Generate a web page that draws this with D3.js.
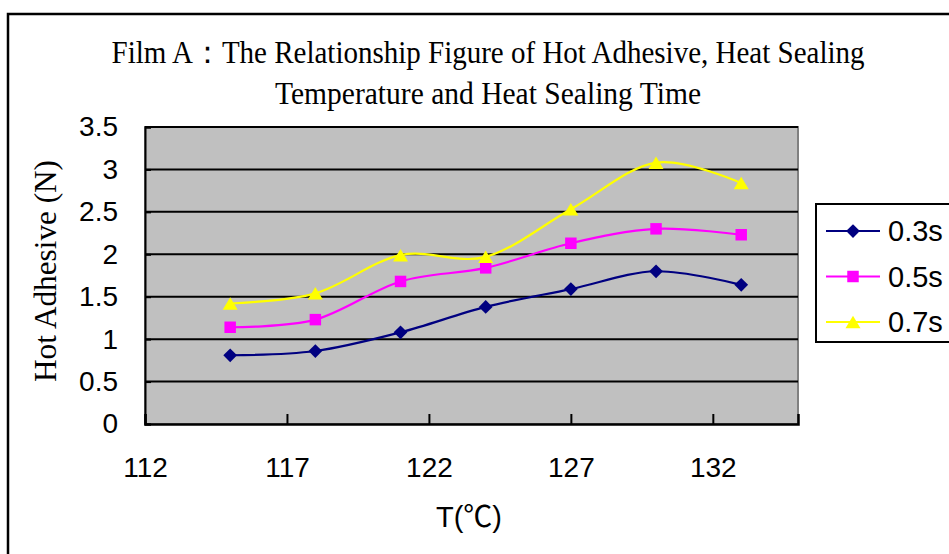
<!DOCTYPE html>
<html>
<head>
<meta charset="utf-8">
<script src="https://cdn.jsdelivr.net/npm/d3@7"></script>
<style>
  html, body { margin: 0; padding: 0; background: #fff; }
  svg { display: block; }
</style>
</head>
<body>
<svg id="chart" width="949" height="554"></svg>
<script>
// ---- data ----
const temperatures = [115, 118, 121, 124, 127, 130, 133];
const seriesNames = ["0.3s", "0.5s", "0.7s"];
const values03 = [0.81, 0.86, 1.08, 1.38, 1.59, 1.80, 1.64];
const values05 = [1.14, 1.23, 1.68, 1.84, 2.13, 2.30, 2.23];
const values07 = [1.42, 1.54, 1.99, 1.97, 2.53, 3.08, 2.84];
const xTicks = [112, 117, 122, 127, 132];
const yTicks = [0, 0.5, 1, 1.5, 2, 2.5, 3, 3.5];
const titleLines = ["Film A\uFF1AThe Relationship Figure of Hot Adhesive, Heat Sealing", "Temperature and Heat Sealing Time"];
const xTitle = "T(\u2103)";
const yTitle = "Hot Adhesive (N)";

// ---- layout ----
const svg = d3.select("#chart");
const plot = { left: 145, right: 798, top: 127, bottom: 424 };
const x = d3.scaleLinear().domain([112, 135]).range([plot.left, plot.right]);
const y = d3.scaleLinear().domain([0, 3.5]).range([plot.bottom, plot.top]);

const colors = ["#000080", "#FF00FF", "#FFFF00"];
const allValues = [values03, values05, values07];

// custom marker shapes
const diamond = { draw(ctx, size) { const r = Math.sqrt(size) / 2 * 1.25; ctx.moveTo(0, -r); ctx.lineTo(r, 0); ctx.lineTo(0, r); ctx.lineTo(-r, 0); ctx.closePath(); } };
const square = { draw(ctx, size) { const r = Math.sqrt(size) / 2; ctx.rect(-r, -r, 2 * r, 2 * r); } };
const triangle = { draw(ctx, size) { const w = Math.sqrt(size) * 1.2 / 2, h = Math.sqrt(size) / 2; ctx.moveTo(0, -h); ctx.lineTo(w, h); ctx.lineTo(-w, h); ctx.closePath(); } };
const shapes = [diamond, square, triangle];
const sizes = [121, 132, 156];

// outer border
svg.append("rect").attr("x", 8).attr("y", 14).attr("width", 960).attr("height", 560)
  .attr("fill", "none").attr("stroke", "#000").attr("stroke-width", 2.5);

// title
const tWidths = [753, 426];
titleLines.forEach((t, i) => {
  svg.append("text")
    .attr("x", 488).attr("y", 63 + i * 41)
    .attr("text-anchor", "middle")
    .attr("font-family", "'Liberation Serif', 'Times New Roman', serif")
    .attr("font-size", 32)
    .attr("textLength", tWidths[i]).attr("lengthAdjust", "spacingAndGlyphs")
    .text(t);
});

// plot background
svg.append("rect")
  .attr("x", plot.left).attr("y", plot.top)
  .attr("width", plot.right - plot.left).attr("height", plot.bottom - plot.top)
  .attr("fill", "#C0C0C0").attr("stroke", "#808080").attr("stroke-width", 2);

// gridlines
svg.append("g").selectAll("line").data(yTicks.filter(d => d > 0)).join("line")
  .attr("x1", plot.left).attr("x2", plot.right)
  .attr("y1", d => y(d)).attr("y2", d => y(d))
  .attr("stroke", "#000").attr("stroke-width", 2);

// y axis
const yAxis = svg.append("g").attr("transform", `translate(${plot.left},0)`)
  .call(d3.axisLeft(y).tickValues(yTicks).tickSize(-6).tickPadding(27).tickFormat(d3.format("")));
yAxis.select(".domain").attr("stroke", "#000").attr("stroke-width", 2);
yAxis.selectAll(".tick line").attr("stroke", "#000").attr("stroke-width", 2);
yAxis.selectAll("text").attr("font-family", "'Liberation Sans', Arial, sans-serif")
  .attr("font-size", 28).attr("fill", "#000");

// x axis
const xAxis = svg.append("g").attr("transform", `translate(0,${plot.bottom})`)
  .call(d3.axisBottom(x).tickValues(xTicks).tickSize(-10).tickPadding(44).tickFormat(d3.format("")));
xAxis.select(".domain").attr("stroke", "#000").attr("stroke-width", 2.5);
xAxis.selectAll(".tick line").attr("stroke", "#000").attr("stroke-width", 2);
xAxis.selectAll("text").attr("font-family", "'Liberation Sans', Arial, sans-serif")
  .attr("font-size", 28).attr("fill", "#000").attr("dy", "0").attr("y", 53);

// axis titles
svg.append("text").attr("x", 469).attr("y", 527).attr("text-anchor", "middle")
  .attr("font-family", "'Liberation Sans', Arial, 'Noto Sans CJK SC', sans-serif")
  .attr("font-size", 29).text(xTitle);
svg.append("text")
  .attr("transform", "translate(56,271) rotate(-90)")
  .attr("text-anchor", "middle")
  .attr("font-family", "'Liberation Serif', 'Times New Roman', serif")
  .attr("font-size", 32)
  .attr("textLength", 222).attr("lengthAdjust", "spacingAndGlyphs")
  .text(yTitle);

// series
const line = d3.line().x((d, i) => x(temperatures[i])).y(d => y(d)).curve(d3.curveCardinal.tension(0));
allValues.forEach((vals, s) => {
  svg.append("path").attr("d", line(vals)).attr("fill", "none")
    .attr("stroke", colors[s]).attr("stroke-width", 2.2);
  svg.append("g").selectAll("path").data(vals).join("path")
    .attr("transform", (d, i) => `translate(${x(temperatures[i])},${y(d)})`)
    .attr("d", d3.symbol().type(shapes[s]).size(sizes[s]))
    .attr("fill", colors[s]);
});

// legend
svg.append("rect").attr("x", 816).attr("y", 204).attr("width", 160).attr("height", 138)
  .attr("fill", "#fff").attr("stroke", "#000").attr("stroke-width", 2);
seriesNames.forEach((name, s) => {
  const ly = 231 + s * 45.5;
  svg.append("line").attr("x1", 826).attr("x2", 880).attr("y1", ly).attr("y2", ly)
    .attr("stroke", colors[s]).attr("stroke-width", 2.2);
  svg.append("path").attr("transform", `translate(853,${ly})`)
    .attr("d", d3.symbol().type(shapes[s]).size(sizes[s])).attr("fill", colors[s]);
  svg.append("text").attr("x", 888).attr("y", ly).attr("dy", "0.36em")
    .attr("font-family", "'Liberation Sans', Arial, sans-serif")
    .attr("font-size", 29).text(name);
});
</script>
</body>
</html>
